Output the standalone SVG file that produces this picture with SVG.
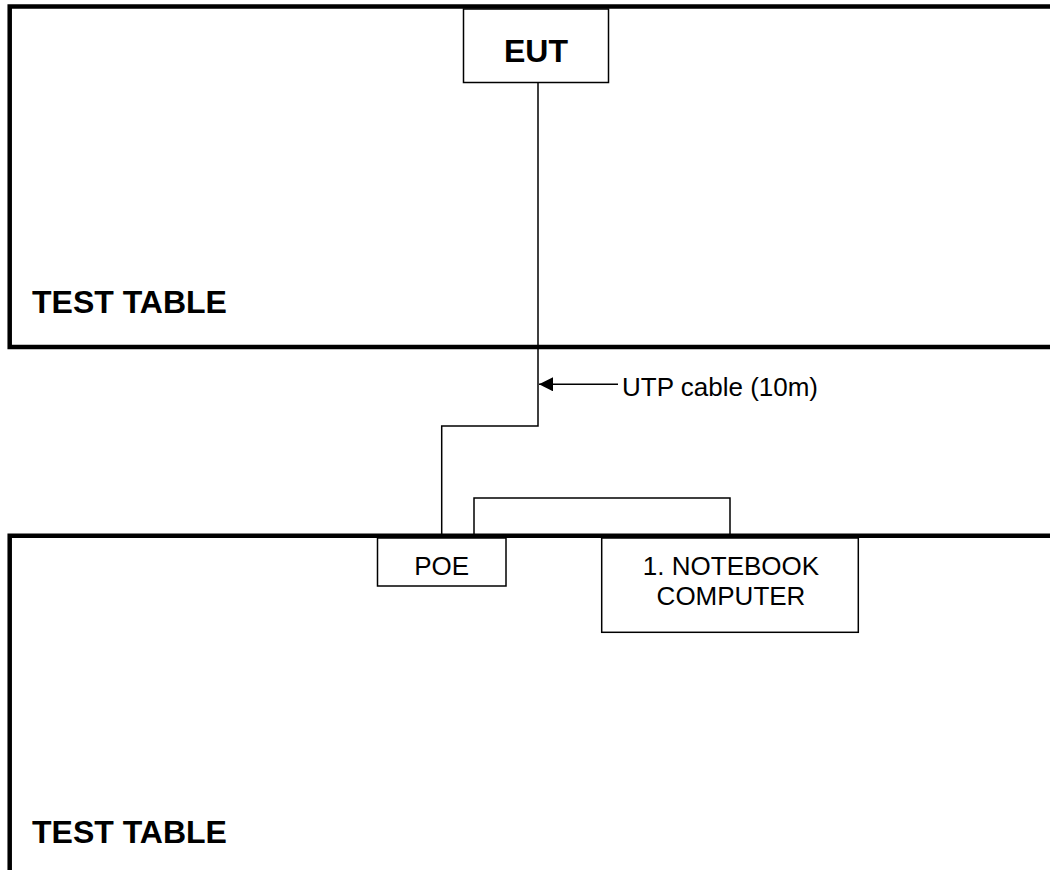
<svg xmlns="http://www.w3.org/2000/svg" width="1050" height="870" viewBox="0 0 1050 870">
<defs>
<style>
.table{fill:none;stroke:#000;stroke-width:4.5}
.box{fill:#fff;stroke:#000;stroke-width:1.5}
.wire{fill:none;stroke:#000;stroke-width:1.5}
.big{font-family:"Liberation Sans",Arial,sans-serif;font-weight:bold;font-size:32px;fill:#000}
.lbl{font-family:"Liberation Sans",Arial,sans-serif;font-size:26px;fill:#000}
</style>
<marker id="arr" viewBox="0 0 14 14" refX="14" refY="7" markerWidth="14" markerHeight="14" markerUnits="userSpaceOnUse" orient="auto">
<path d="M0,0 L14,7 L0,14 Z" fill="#000"/>
</marker>
</defs>
<rect width="1050" height="870" fill="#fff"/>
<g id="table-top">
<path class="table" d="M1060,6.5 H9.7 V347 H1060"/>
<text class="big" x="32" y="313">TEST TABLE</text>
</g>
<g id="table-bottom">
<path class="table" d="M1060,535.7 H9.7 V880"/>
<text class="big" x="32" y="843">TEST TABLE</text>
</g>
<g id="connectors">
<path class="wire" d="M538,82.5 V426 H441.7 V534"/>
<path class="wire" d="M474,534 V498 H730 V534"/>
<line class="wire" x1="618" y1="384.3" x2="539" y2="384.3" marker-end="url(#arr)"/>
<text class="lbl" x="622" y="396">UTP cable (10m)</text>
</g>
<g id="eut">
<rect class="box" x="463.5" y="9" width="145" height="73.5"/>
<text class="big" x="536" y="62.3" text-anchor="middle">EUT</text>
</g>
<g id="poe">
<rect class="box" x="377.5" y="538" width="128.5" height="48"/>
<text class="lbl" x="441.7" y="575" text-anchor="middle">POE</text>
</g>
<g id="notebook">
<rect class="box" x="601.7" y="538" width="256.6" height="94.3"/>
<text class="lbl" x="731" y="575" text-anchor="middle">1. NOTEBOOK</text>
<text class="lbl" x="731" y="605" text-anchor="middle">COMPUTER</text>
</g>
</svg>
